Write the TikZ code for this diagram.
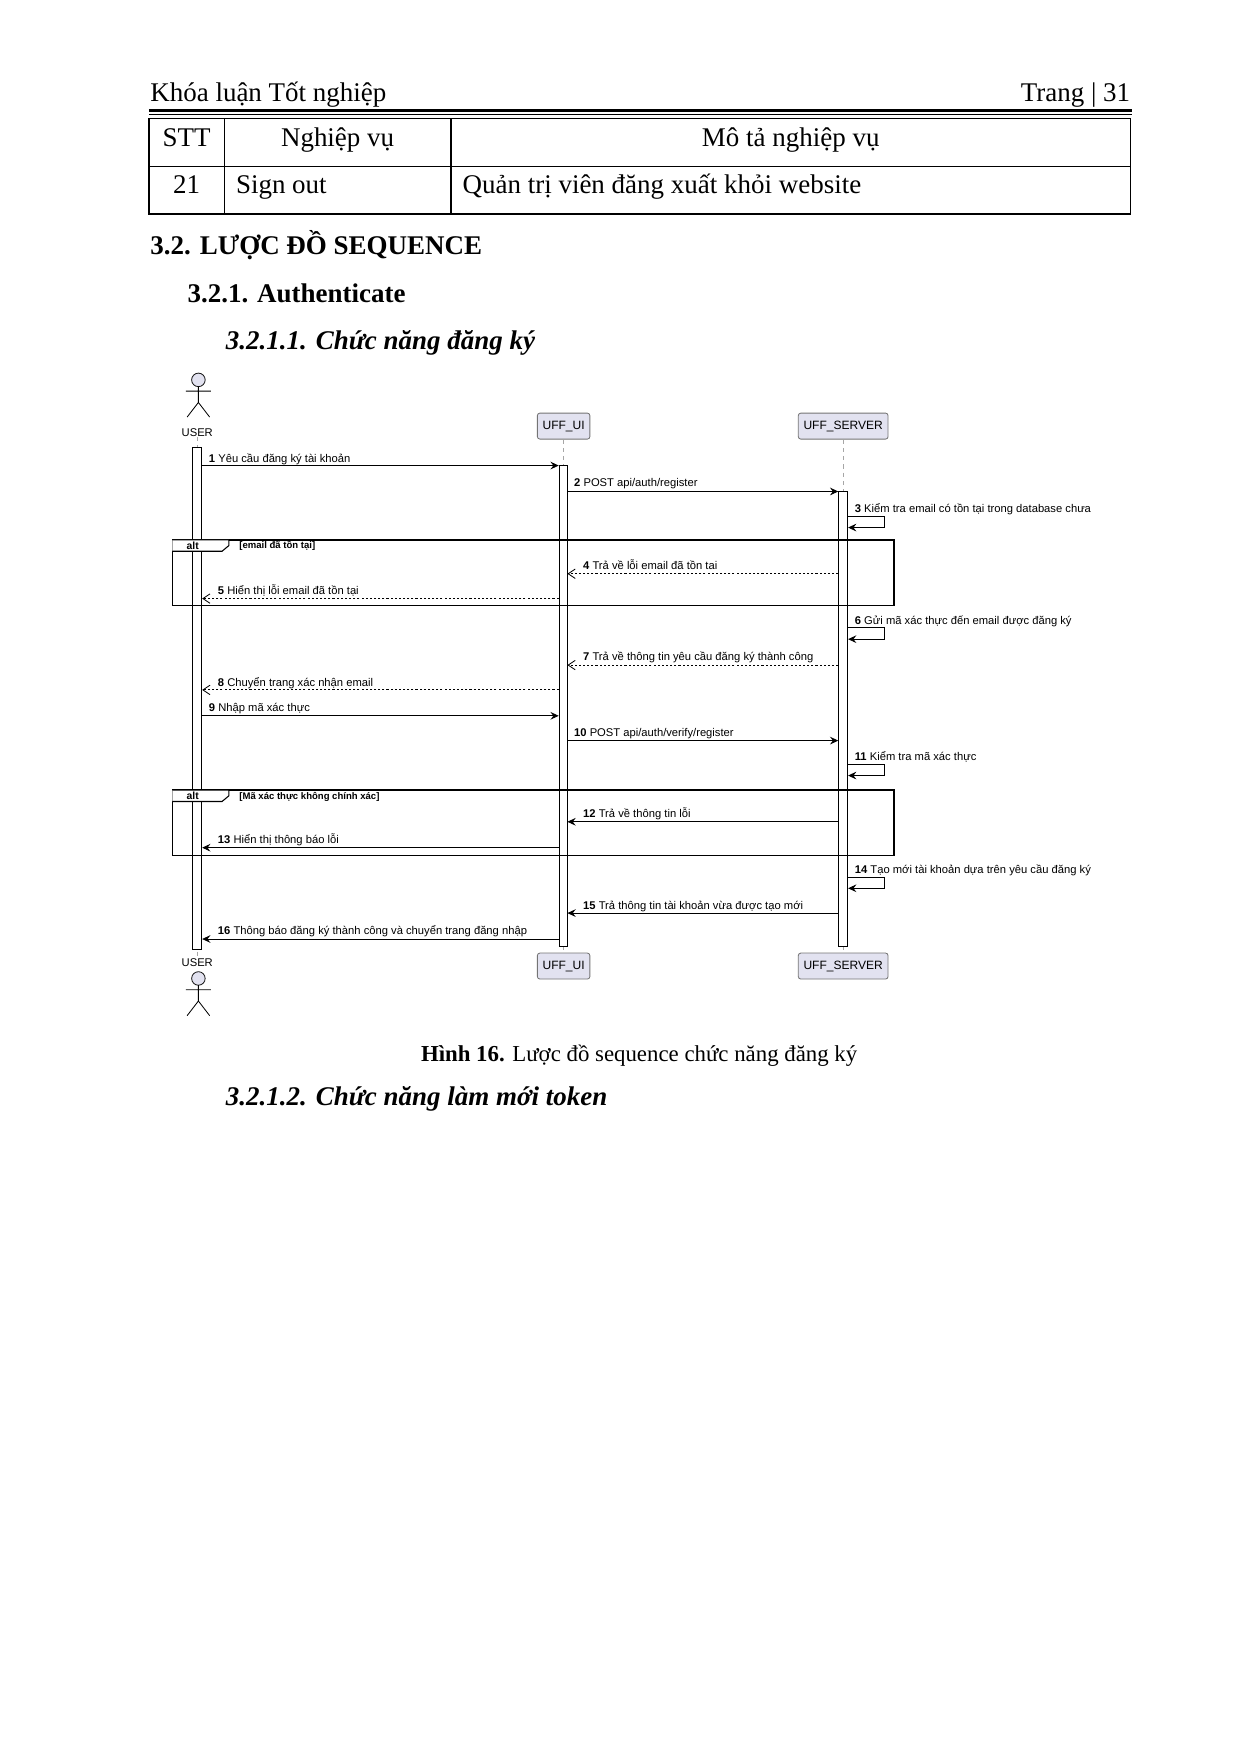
\documentclass[tikz,border=0pt]{standalone}
\usepackage{fontspec}
\setmainfont{Liberation Serif}
\newfontfamily\umlfont{Liberation Sans}
\usetikzlibrary{arrows.meta, positioning, fit, calc}
\definecolor{partFill}{RGB}{226,226,240}
\definecolor{partDraw}{RGB}{24,24,24}

\begin{document}
\begin{tikzpicture}[
    x=0.019091cm, y=-0.019091cm,
    body/.style={font=\fontsize{13}{15}\selectfont, inner sep=0pt},
    cell/.style={body, anchor=base},
    participant/.style={rectangle, rounded corners=1.2pt, draw=partDraw!60, fill=partFill, line width=0.4pt, minimum width=0.88cm, minimum height=0.44cm, inner xsep=2.5pt, inner ysep=1pt, font=\umlfont\fontsize{5.8}{7}\selectfont},
    actbar/.style={rectangle, draw=black, fill=white, line width=0.4pt, inner sep=0pt},
    lifeline/.style={draw=gray!70, dash pattern=on 2pt off 2pt, line width=0.3pt},
    msg/.style={-{Stealth[length=1.4mm, width=1.3mm, inset=0.5mm]}, line width=0.4pt},
    reply/.style={-{Straight Barb[length=1.2mm, width=1.6mm]}, line width=0.4pt, dash pattern=on 1pt off 1pt},
    lbl/.style={font=\umlfont\fontsize{5.4}{6}\selectfont, inner sep=0pt, anchor=base west},
    frame/.style={draw=black, line width=0.8pt}
]
\useasboundingbox (0,0) rectangle (1100,1556);

% Header
\node[body, anchor=base west] (title) at (133,90) {Khóa luận Tốt nghiệp};
\node[body, anchor=base east] (page) at (1003,90) {Trang | 31};
\draw[line width=1.6pt] (132,98) -- (1004,98);
\draw[line width=0.5pt] (132,101.5) -- (1004,101.5);

% Table
\draw[line width=0.8pt] (132,105) rectangle (1003,190);
\draw[line width=0.6pt] (132,148) -- (1003,148);
\draw[line width=0.6pt] (199,105) -- (199,190) (400,105) -- (400,190);
\node[cell] (h1) at (165.5,130) {STT};
\node[cell] (h2) at (299.5,130) {Nghiệp vụ};
\node[cell] (h3) at (701.5,130) {Mô tả nghiệp vụ};
\node[cell] (r1) at (165.5,172) {21};
\node[cell, anchor=base west] (r2) at (209,172) {Sign out};
\node[cell, anchor=base west] (r3) at (410,172) {Quản trị viên đăng xuất khỏi website};

% Headings
\node[body, anchor=base west, font=\fontsize{13}{15}\selectfont\bfseries] (s32) at (133,226) {3.2. LƯỢC ĐỒ SEQUENCE};
\node[body, anchor=base west, font=\fontsize{13}{15}\selectfont\bfseries] (s321) at (166,268) {3.2.1. Authenticate};
\node[body, anchor=base west, font=\fontsize{13}{15}\selectfont\bfseries\itshape] (s3211) at (200,310) {3.2.1.1. Chức năng đăng ký};

% Actor and participants
\foreach \yh in {337, 868} {
  \draw[draw=partDraw, fill=partFill, line width=0.4pt] (176,\yh) circle (6);
  \draw[line width=0.4pt] (176,\yh+6) -- (176,\yh+20) (165,\yh+10) -- (187,\yh+10)
        (176,\yh+20) -- (166,\yh+33) (176,\yh+20) -- (186,\yh+33);
}
\node[lbl, anchor=base] (usertop) at (175,387) {USER};
\node[lbl, anchor=base] (userbot) at (175,857) {USER};
\node[participant] (uitop) at (500,378) {UFF\_UI};
\node[participant] (srvtop) at (748,378) {UFF\_SERVER};
\node[participant] (uibot) at (500,857) {UFF\_UI};
\node[participant] (srvbot) at (748,857) {UFF\_SERVER};

\draw[lifeline] (usertop.south) -- (userbot.north);
\draw[lifeline] (uitop) -- (uibot);
\draw[lifeline] (srvtop) -- (srvbot);

% Activation bars
\node[actbar, fit={(171,397)(179,842)}] (ubar) {};
\node[actbar, fit={(496,413)(503,840)}] (ibar) {};
\node[actbar, fit={(744,436)(752,840)}] (sbar) {};

% alt frames
\draw[frame] (153,479) rectangle (793,537);
\draw[frame] (153,701) rectangle (793,759);
\foreach \yt/\guard in {479/{[email đã tồn tại]}, 701/{[Mã xác thực không chính xác]}} {
  \draw[line width=0.5pt, fill=white] (153,\yt) -- (203,\yt) -- (203,\yt+5) -- (197,\yt+10) -- (153,\yt+10);
  \node[lbl, font=\umlfont\bfseries\fontsize{5}{6}\selectfont, anchor=base] at (171,\yt+8.5) {alt};
  \node[lbl, font=\umlfont\bfseries\fontsize{4.6}{5}\selectfont] at (212,\yt+8) {\guard};
}

% Messages
\draw[msg] (ubar.east |- {0,413}) -- (ibar.west |- {0,413});
\node[lbl] at (185,410) {\textbf{1} Yêu cầu đăng ký tài khoản};
\draw[msg] (ibar.east |- {0,436}) -- (sbar.west |- {0,436});
\node[lbl] at (509,432) {\textbf{2} POST api/auth/register};
\foreach \ys/\txt in {452/{\textbf{3} Kiểm tra email có tồn tại trong database chưa},
                       551/{\textbf{6} Gửi mã xác thực đến email được đăng ký},
                       672/{\textbf{11} Kiểm tra mã xác thực},
                       772/{\textbf{14} Tạo mới tài khoản dựa trên yêu cầu đăng ký}} {
  \node[lbl] at (758,\ys+3) {\txt};
  \draw[msg] (sbar.east |- {0,\ys+6}) -- (785,\ys+6) -- (785,\ys+16) -- (sbar.east |- {0,\ys+16});
}
\draw[reply] (sbar.west |- {0,509}) -- (ibar.east |- {0,509});
\node[lbl] at (517,505) {\textbf{4} Trả về lỗi email đã tồn tai};
\draw[reply] (ibar.west |- {0,531}) -- (ubar.east |- {0,531});
\node[lbl] at (193,527) {\textbf{5} Hiển thị lỗi email đã tồn tại};
\draw[reply] (sbar.west |- {0,590}) -- (ibar.east |- {0,590});
\node[lbl] at (517,586) {\textbf{7} Trả về thông tin yêu cầu đăng ký thành công};
\draw[reply] (ibar.west |- {0,612}) -- (ubar.east |- {0,612});
\node[lbl] at (193,609) {\textbf{8} Chuyển trang xác nhận email};
\draw[msg] (ubar.east |- {0,635}) -- (ibar.west |- {0,635});
\node[lbl] at (185,631) {\textbf{9} Nhập mã xác thực};
\draw[msg] (ibar.east |- {0,657}) -- (sbar.west |- {0,657});
\node[lbl] at (509,653) {\textbf{10} POST api/auth/verify/register};
\draw[msg] (sbar.west |- {0,729}) -- (ibar.east |- {0,729});
\node[lbl] at (517,725) {\textbf{12} Trả về thông tin lỗi};
\draw[msg] (ibar.west |- {0,752}) -- (ubar.east |- {0,752});
\node[lbl] at (193,748) {\textbf{13} Hiển thị thông báo lỗi};
\draw[msg] (sbar.west |- {0,810}) -- (ibar.east |- {0,810});
\node[lbl] at (517,807) {\textbf{15} Trả thông tin tài khoản vừa được tạo mới};
\draw[msg] (ibar.west |- {0,833}) -- (ubar.east |- {0,833});
\node[lbl] at (193,829) {\textbf{16} Thông báo đăng ký thành công và chuyển trang đăng nhập};

% Caption and next heading
\node[body, anchor=base, font=\fontsize{11}{13}\selectfont] (cap) at (567,942) {\textbf{Hình 16.} Lược đồ sequence chức năng đăng ký};
\node[body, anchor=base west, font=\fontsize{13}{15}\selectfont\bfseries\itshape] (s3212) at (200,981) {3.2.1.2. Chức năng làm mới token};
\end{tikzpicture}
\end{document}
